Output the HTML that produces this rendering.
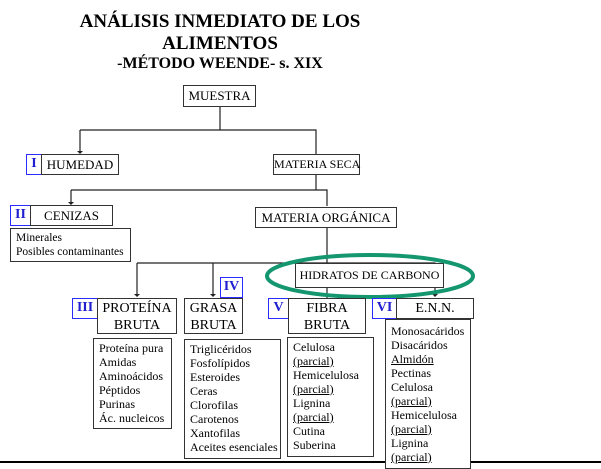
<!DOCTYPE html>
<html><head><meta charset="utf-8"><style>
body{margin:0;width:601px;height:463px;background:#fff;position:relative;overflow:hidden;font-family:"Liberation Serif",serif;color:#000}
.b{position:absolute;border:1px solid #333;background:#fff;box-sizing:border-box;font-size:13px;text-align:center;line-height:1.2;white-space:nowrap}
.n{position:absolute;border:1.5px solid #2b2bff;box-sizing:border-box;color:#2020d0;font-weight:bold;font-size:14px;text-align:center;background:#fff}
.l{position:absolute;border:1px solid #333;box-sizing:border-box;font-size:12px;line-height:14px;padding:2px 0 0 5px;background:#fff;white-space:nowrap}
.t{position:absolute;left:0;width:440px;text-align:center;font-weight:bold;white-space:nowrap}
u{text-decoration:underline}
</style></head><body>
<div class="t" style="top:11px;font-size:19px">ANÁLISIS INMEDIATO DE LOS</div>
<div class="t" style="top:33px;font-size:19px">ALIMENTOS</div>
<div class="t" style="top:55px;font-size:16px">-MÉTODO WEENDE- s. XIX</div>
<svg style="position:absolute;left:0;top:0" width="601" height="463">
<g stroke="#222" stroke-width="1.2" fill="none">
<path d="M220 107V130M80 130H316V154M80 130V152"/>
<path d="M316 175V190M71 190H327V206M71 190V204"/>
<path d="M327 228V263M137 263H435V296M137 263V296M213 263V296M327 288V298"/>
</g>
<g fill="#222"><path d="M77 151h6l-3 3z"/><path d="M68 202h6l-3 3z"/><path d="M134 294h6l-3 3z"/><path d="M210 294h6l-3 3z"/><path d="M432 294h6l-3 3z"/></g>
<line x1="0" y1="462" x2="601" y2="462" stroke="#000" stroke-width="2"/>
</svg>
<div class="b" style="left:183px;top:85px;width:73px;height:22px;line-height:20px">MUESTRA</div>
<div class="n" style="left:26px;top:154px;width:16px;height:21px;line-height:18px">I</div>
<div class="b" style="left:41px;top:154px;width:78px;height:21px;line-height:19px">HUMEDAD</div>
<div class="b" style="left:273px;top:154px;width:87px;height:21px;line-height:19px;font-size:12px">MATERIA SECA</div>
<div class="n" style="left:10px;top:205px;width:21px;height:21px;line-height:18px">II</div>
<div class="b" style="left:30px;top:205px;width:83px;height:21px;line-height:19px">CENIZAS</div>
<div class="l" style="left:10px;top:228px;width:121px;height:34px;font-size:11.5px">Minerales<br>Posibles contaminantes</div>
<div class="b" style="left:255px;top:207px;width:142px;height:21px;line-height:19px">MATERIA ORGÁNICA</div>
<div class="b" style="left:295px;top:263px;width:149px;height:25px;line-height:23px;font-size:12px">HIDRATOS DE CARBONO</div>
<svg style="position:absolute;left:0;top:0" width="601" height="463"><ellipse cx="370" cy="276" rx="103" ry="21" fill="none" stroke="#14966e" stroke-width="4"/></svg>
<div class="n" style="left:72px;top:298px;width:26px;height:21px;line-height:18px">III</div>
<div class="b" style="left:97px;top:298px;width:80px;height:36px;padding-top:2px;font-size:14px">PROTEÍNA<br>BRUTA</div>
<div class="n" style="left:220px;top:277px;width:23px;height:21px;line-height:18px">IV</div>
<div class="b" style="left:184px;top:298px;width:59px;height:36px;padding-top:2px;font-size:14px">GRASA<br>BRUTA</div>
<div class="n" style="left:268px;top:298px;width:21px;height:21px;line-height:18px">V</div>
<div class="b" style="left:288px;top:298px;width:78px;height:36px;padding-top:2px;font-size:14px">FIBRA<br>BRUTA</div>
<div class="n" style="left:372px;top:298px;width:25px;height:21px;line-height:18px">VI</div>
<div class="b" style="left:396px;top:298px;width:78px;height:21px;line-height:19px;font-size:14px">E.N.N.</div>
<div class="l" style="left:93px;top:338px;width:79px;height:91px">Proteína pura<br>Amidas<br>Aminoácidos<br>Péptidos<br>Purinas<br>Ác. nucleicos</div>
<div class="l" style="left:184px;top:339px;width:97px;height:120px">Triglicéridos<br>Fosfolípidos<br>Esteroides<br>Ceras<br>Clorofilas<br>Carotenos<br>Xantofilas<br>Aceites esenciales</div>
<div class="l" style="left:287px;top:337px;width:87px;height:120px">Celulosa<br><u>(parcial)</u><br>Hemicelulosa<br><u>(parcial)</u><br>Lignina<br><u>(parcial)</u><br>Cutina<br>Suberina</div>
<div class="l" style="left:385px;top:319px;width:86px;height:150px;padding-top:4px">Monosacáridos<br>Disacáridos<br><u>Almidón</u><br>Pectinas<br>Celulosa<br><u>(parcial)</u><br>Hemicelulosa<br><u>(parcial)</u><br>Lignina<br><u>(parcial)</u></div>
</body></html>
